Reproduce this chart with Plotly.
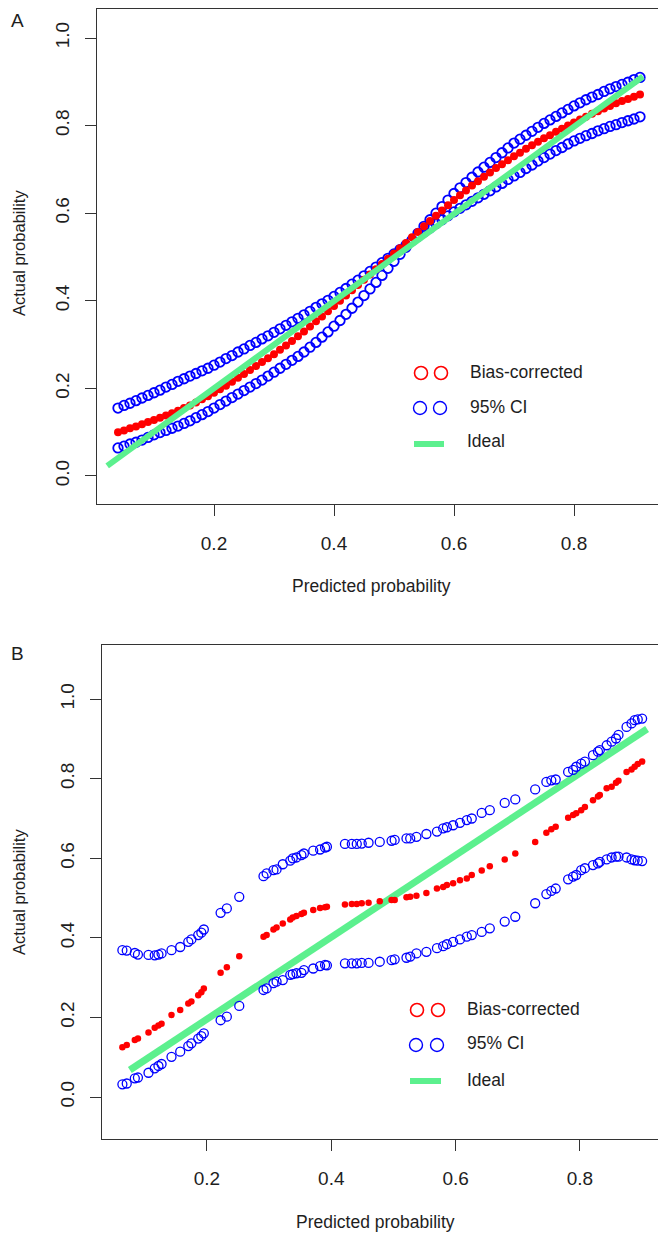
import plotly.graph_objects as go

# the page body has an 8px margin, so the figure is sized and placed to fit it
PAGE_OFF = 8
W, H = 666 - PAGE_OFF, 1235 - PAGE_OFF

# ---- Panel A: bootstrap calibration, dense points ----
a_pred = [0.04, 0.05, 0.06, 0.07, 0.08, 0.09, 0.10, 0.11, 0.12, 0.13,
          0.14, 0.15, 0.16, 0.17, 0.18, 0.19, 0.20, 0.21, 0.22, 0.23,
          0.24, 0.25, 0.26, 0.27, 0.28, 0.29, 0.30, 0.31, 0.32, 0.33,
          0.34, 0.35, 0.36, 0.37, 0.38, 0.39, 0.40, 0.41, 0.42, 0.43,
          0.44, 0.45, 0.46, 0.47, 0.48, 0.49, 0.50, 0.51, 0.52, 0.53,
          0.54, 0.55, 0.56, 0.57, 0.58, 0.59, 0.60, 0.61, 0.62, 0.63,
          0.64, 0.65, 0.66, 0.67, 0.68, 0.69, 0.70, 0.71, 0.72, 0.73,
          0.74, 0.75, 0.76, 0.77, 0.78, 0.79, 0.80, 0.81, 0.82, 0.83,
          0.84, 0.85, 0.86, 0.87, 0.88, 0.89, 0.90, 0.91]
a_bias = [.100, .104, .109, .113, .118, .123, .128, .133, .138, .143,
          .149, .155, .161, .168, .175, .182, .190, .198, .206, .215,
          .224, .233, .242, .251, .260, .269, .278, .288, .298, .308,
          .319, .330, .341, .353, .364, .376, .388, .400, .412, .424,
          .436, .448, .460, .472, .484, .496, .508, .520, .532, .545,
          .557, .570, .582, .594, .606, .618, .630, .641, .652, .663,
          .673, .683, .693, .703, .712, .721, .730, .738, .747, .755,
          .763, .771, .778, .786, .793, .800, .807, .814, .820, .827,
          .833, .839, .845, .851, .856, .861, .866, .871]
a_ci_1 = [.064, .068, .073, .077, .082, .088, .094, .099, .104, .109,
          .114, .120, .126, .133, .140, .147, .155, .163, .171, .179,
          .187, .195, .203, .211, .219, .228, .237, .246, .255, .264,
          .273, .283, .294, .305, .317, .329, .342, .355, .369, .383,
          .397, .412, .427, .442, .458, .474, .490, .506, .522, .538,
          .554, .570, .585, .600, .615, .630, .645, .658, .670, .682,
          .694, .705, .716, .727, .738, .749, .760, .769, .778, .787,
          .796, .805, .813, .821, .829, .837, .845, .852, .859, .865,
          .871, .878, .884, .889, .894, .899, .905, .910]
a_ci_2 = [.155, .161, .166, .172, .178, .184, .190, .196, .203, .209,
          .216, .222, .228, .234, .240, .246, .253, .260, .268, .275,
          .283, .290, .298, .305, .313, .320, .328, .336, .344, .352,
          .360, .368, .376, .385, .393, .401, .410, .419, .428, .438,
          .447, .457, .467, .477, .487, .497, .507, .517, .527, .537,
          .547, .557, .566, .576, .585, .594, .603, .611, .619, .627,
          .635, .643, .651, .660, .668, .677, .685, .693, .702, .710,
          .719, .727, .735, .743, .750, .758, .765, .771, .777, .782,
          .788, .793, .798, .802, .807, .811, .815, .820]
a_ideal_x = [0.022, 0.915]
a_ideal_y = [0.023, 0.912]

# ---- Panel B ----
b_pred = [0.064, 0.071, 0.084, 0.089, 0.106, 0.116, 0.122, 0.127, 0.143, 0.157,
          0.170, 0.175, 0.186, 0.191, 0.195, 0.222, 0.232, 0.252, 0.291, 0.296,
          0.307, 0.312, 0.322, 0.334, 0.338, 0.344, 0.352, 0.356, 0.371, 0.382,
          0.390, 0.393, 0.422, 0.433, 0.441, 0.449, 0.460, 0.478, 0.497, 0.502,
          0.521, 0.527, 0.537, 0.553, 0.570, 0.580, 0.586, 0.596, 0.607, 0.618,
          0.626, 0.642, 0.655, 0.679, 0.696, 0.728, 0.746, 0.754, 0.761, 0.781,
          0.789, 0.794, 0.802, 0.808, 0.821, 0.829, 0.832, 0.843, 0.851, 0.858,
          0.862, 0.875, 0.883, 0.888, 0.893, 0.900]
b_bias = [.125, .131, .143, .147, .162, .174, .180, .184, .206, .219,
          .235, .240, .256, .263, .273, .312, .326, .354, .403, .407,
          .421, .426, .436, .446, .451, .455, .460, .463, .470, .475,
          .477, .478, .484, .485, .485, .487, .488, .492, .495, .495,
          .502, .503, .506, .513, .524, .528, .533, .537, .545, .549,
          .558, .569, .580, .597, .612, .641, .664, .673, .679, .702,
          .709, .713, .721, .729, .746, .755, .759, .776, .780, .790,
          .795, .817, .823, .830, .837, .843]
b_upper = [.369, .368, .362, .358, .357, .356, .358, .361, .369, .377,
           .390, .396, .407, .413, .421, .463, .474, .503, .555, .562,
           .570, .572, .585, .594, .600, .602, .608, .612, .619, .622,
           .627, .629, .636, .636, .636, .637, .639, .641, .644, .646,
           .650, .650, .654, .661, .667, .675, .678, .683, .689, .696,
           .700, .714, .721, .739, .748, .773, .792, .796, .798, .817,
           .822, .830, .838, .843, .859, .868, .872, .884, .893, .901,
           .910, .930, .939, .947, .949, .951]
b_lower = [.032, .034, .047, .049, .061, .072, .078, .083, .101, .114,
           .128, .135, .147, .153, .160, .193, .202, .229, .269, .273,
           .286, .290, .294, .307, .309, .311, .312, .319, .323, .329,
           .332, .331, .336, .336, .336, .337, .337, .340, .344, .346,
           .350, .353, .361, .365, .374, .379, .384, .390, .396, .403,
           .407, .415, .424, .441, .453, .487, .510, .518, .524, .547,
           .554, .558, .570, .575, .583, .587, .591, .597, .602, .604,
           .604, .602, .597, .595, .594, .593]
b_ideal_x = [0.076, 0.908]
b_ideal_y = [0.068, 0.925]

x_ticks = [0.2, 0.4, 0.6, 0.8]
y_ticks = [0.0, 0.2, 0.4, 0.6, 0.8, 1.0]
legend_labels = ["Bias-corrected", "95% CI", "Ideal"]

RED = "#ff0000"
BLUE = "#0000ff"
GREEN = "#5cf08e"
INK = "#1e1e1e"
FONT = "Liberation Sans, Arial, sans-serif"


# positions below are page pixels; convert to paper fractions
def px(x):
    return (x - PAGE_OFF) / W


def py(y):
    return 1 - (y - PAGE_OFF) / H


fig = go.Figure()

# panel A
for ys in (a_ci_1, a_ci_2):
    fig.add_trace(go.Scatter(x=a_pred, y=ys, mode="markers", xaxis="x", yaxis="y",
                             marker=dict(symbol="circle-open", size=9.5, color=BLUE,
                                         line=dict(width=1.8, color=BLUE))))
fig.add_trace(go.Scatter(x=a_pred, y=a_bias, mode="markers", xaxis="x", yaxis="y",
                         marker=dict(symbol="circle", size=8, color=RED)))
fig.add_trace(go.Scatter(x=a_ideal_x, y=a_ideal_y, mode="lines", xaxis="x", yaxis="y",
                         line=dict(color=GREEN, width=6)))

# panel B
fig.add_trace(go.Scatter(x=b_ideal_x, y=b_ideal_y, mode="lines", xaxis="x2", yaxis="y2",
                         line=dict(color=GREEN, width=7)))
fig.add_trace(go.Scatter(x=b_pred, y=b_bias, mode="markers", xaxis="x2", yaxis="y2",
                         marker=dict(symbol="circle", size=6.5, color=RED)))
for ys in (b_upper, b_lower):
    fig.add_trace(go.Scatter(x=b_pred, y=ys, mode="markers", xaxis="x2", yaxis="y2",
                             marker=dict(symbol="circle-open", size=9, color=BLUE,
                                         line=dict(width=1.3, color=BLUE))))

axis_common = dict(showline=True, mirror=True, linecolor="#333333", linewidth=1.3,
                   ticks="outside", ticklen=11, tickwidth=1.3, tickcolor="#333333",
                   showgrid=False, zeroline=False,
                   tickfont=dict(family=FONT, size=19, color=INK))

# panel A box top sits at the page edge; keep the y scale (438 px per unit)
a_top = 1.0 + (38 - 9) / 438

fig.update_layout(
    width=W, height=H, margin=dict(l=0, r=0, t=0, b=0),
    paper_bgcolor="white", plot_bgcolor="white", showlegend=False,
    xaxis=dict(axis_common, domain=[px(97), px(661)], range=[0.005, 0.945],
               tickvals=x_ticks, tickformat=".1f", ticklabelstandoff=11, anchor="y"),
    yaxis=dict(axis_common, domain=[py(504), py(9)], range=[-0.064, a_top],
               tickvals=y_ticks, tickformat=".1f", tickangle=-90, ticklabelstandoff=8,
               anchor="x"),
    xaxis2=dict(axis_common, domain=[px(102), px(662)], range=[0.0312, 0.932],
                tickvals=x_ticks, tickformat=".1f", ticklabelstandoff=11, anchor="y2"),
    yaxis2=dict(axis_common, domain=[py(1139), py(645)], range=[-0.1055, 1.136],
                tickvals=y_ticks, tickformat=".1f", tickangle=-90, ticklabelstandoff=8,
                anchor="x2"),
)

shapes = []
annotations = []


def add_legend(cx1, cx2, ry, by, gx0, gx1, gy, tx, ty):
    r = 6.5
    for cx in (cx1, cx2):
        shapes.append(dict(type="circle", xref="paper", yref="paper",
                           x0=px(cx - r), x1=px(cx + r), y0=py(ry + r), y1=py(ry - r),
                           line=dict(color=RED, width=1.6)))
        shapes.append(dict(type="circle", xref="paper", yref="paper",
                           x0=px(cx - r - 1), x1=px(cx + r - 1), y0=py(by + r), y1=py(by - r),
                           line=dict(color=BLUE, width=1.4)))
    shapes.append(dict(type="line", xref="paper", yref="paper",
                       x0=px(gx0), x1=px(gx1), y0=py(gy), y1=py(gy),
                       line=dict(color=GREEN, width=6)))
    for label, (x, y) in zip(legend_labels, zip(tx, ty)):
        annotations.append(dict(text=label, xref="paper", yref="paper", x=px(x), y=py(y),
                                xanchor="left", yanchor="middle", showarrow=False,
                                font=dict(family=FONT, size=17.5, color=INK)))


add_legend(421, 441, 373, 408, 414, 444, 444, [468, 468, 465], [372, 407, 441])
add_legend(417, 438, 1010, 1045, 410, 441, 1081, [465, 465, 465], [1009, 1043, 1080])

texts = [
    ("Predicted probability", 371, 586, 0, 17.5),
    ("Actual probability", 19, 253, -90, 16.5),
    ("Predicted probability", 375, 1222, 0, 17.5),
    ("Actual probability", 19, 892, -90, 16.5),
    ("A", 17, 21, 0, 19),
    ("B", 17, 653, 0, 19),
]
for t, x, y, ang, sz in texts:
    annotations.append(dict(text=t, xref="paper", yref="paper", x=px(x), y=py(y),
                            xanchor="center", yanchor="middle", textangle=ang,
                            showarrow=False, font=dict(family=FONT, size=sz, color=INK)))

fig.update_layout(shapes=shapes, annotations=annotations)

fig.write_html("out.html")
